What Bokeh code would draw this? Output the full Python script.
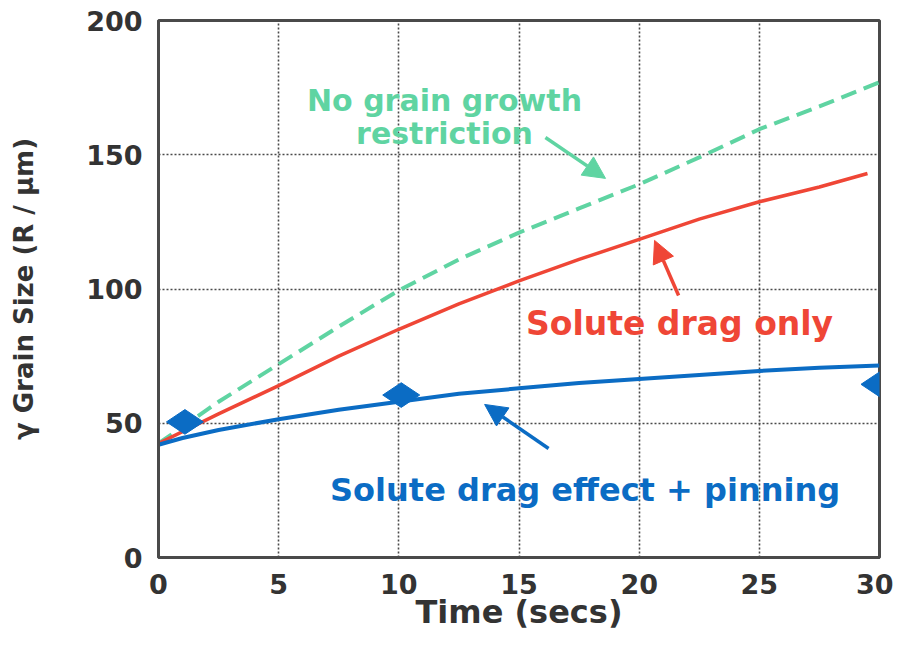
import numpy as np
from bokeh.plotting import figure
from bokeh.models import Range1d, Arrow, NormalHead, FixedTicker, Label
from bokeh.embed import file_html
from bokeh.resources import INLINE

# ---- data ----
t_green = [0, 2.5, 5, 7.5, 10, 12.5, 15, 17.5, 20, 22.5, 25, 27.5, 30]
no_restriction = [42.5, 58, 72, 86, 99.5, 111, 121, 130, 139, 149, 159.5, 168, 177]

t_red = [0, 2.5, 5, 7.5, 10, 12.5, 15, 17.5, 20, 22.5, 25, 27.5, 29.5]
solute_drag = [42.5, 53.5, 64, 75, 85, 94.5, 103, 111, 118.5, 126, 132.5, 138, 143]

t_blue = [0, 1, 2.5, 5, 7.5, 10, 12.5, 15, 17.5, 20, 22.5, 25, 27.5, 30]
drag_pinning = [42, 44.5, 47.5, 51.5, 55, 58, 61, 63, 65, 66.5, 68, 69.5, 70.7, 71.5]

t_meas = [1.1, 10.1, 30]
measured = [50.5, 60.5, 64.5]

x_ticks = [0, 5, 10, 15, 20, 25, 30]
y_ticks = [0, 50, 100, 150, 200]

GREEN = "#5fd4a2"
RED = "#ef4636"
BLUE = "#0b6cc4"
DARK = "#4a4a4a"
FONT = "DejaVu Sans"

p = figure(width=893, height=634, output_backend="svg", toolbar_location=None,
           x_range=Range1d(0, 30), y_range=Range1d(0, 200),
           min_border_left=158, min_border_right=14, min_border_top=20, min_border_bottom=77)
p.background_fill_color = "white"
p.border_fill_color = "white"
p.outline_line_color = DARK
p.outline_line_width = 3

for ax in (p.xaxis, p.yaxis):
    ax.axis_line_color = DARK
    ax.axis_line_width = 3
    ax.major_tick_line_color = None
    ax.minor_tick_line_color = None
    ax.major_label_text_font = FONT
    ax.major_label_text_font_style = "bold"
    ax.major_label_text_font_size = "27px"
    ax.major_label_text_color = "#333333"
    ax.axis_label_text_font = FONT
    ax.axis_label_text_font_style = "bold"
    ax.axis_label_text_color = "#333333"

p.xaxis.ticker = FixedTicker(ticks=x_ticks)
p.yaxis.ticker = FixedTicker(ticks=y_ticks)
p.xaxis.major_label_standoff = 10
p.yaxis.major_label_standoff = 10
p.xaxis.axis_label = "Time (secs)"
p.xaxis.axis_label_text_font_size = "32px"
p.xaxis.axis_label_standoff = -4
p.yaxis.axis_label = "γ Grain Size (R / μm)"
p.yaxis.axis_label_text_font_size = "26px"
p.yaxis.axis_label_standoff = 44

for g in (p.xgrid, p.ygrid):
    g.grid_line_color = DARK
    g.grid_line_width = 1.6
    g.grid_line_dash = "2 2"

# curves
p.line(t_green, no_restriction, line_color=GREEN, line_width=4, line_dash="16 8")
p.line(t_red, solute_drag, line_color=RED, line_width=3.5)
p.line(t_blue, drag_pinning, line_color=BLUE, line_width=4)
p.scatter(t_meas, measured, marker="diamond", size=37, angle=np.pi / 2,
          fill_color=BLUE, line_color=BLUE)

# annotations
def arrow(x0, y0, x1, y1, col):
    p.add_layout(Arrow(end=NormalHead(size=22, fill_color=col, line_color=col),
                       x_start=x0, y_start=y0, x_end=x1, y_end=y1,
                       line_color=col, line_width=3.5))

arrow(16.1, 156.4, 18.6, 141.2, GREEN)
arrow(21.64, 97.6, 20.64, 118.1, RED)
arrow(16.23, 40.6, 13.57, 57.0, BLUE)

def label(x, y, txt, col, size):
    p.add_layout(Label(x=x, y=y, text=txt, text_color=col, text_font=FONT,
                       text_font_style="bold", text_font_size=size,
                       text_align="center", text_baseline="alphabetic"))

label(11.9, 170.2, "No grain growth", GREEN, "30px")
label(11.9, 157.9, "restriction", GREEN, "30px")
label(21.68, 87.2, "Solute drag only", RED, "33px")
label(17.75, 25.3, "Solute drag effect + pinning", BLUE, "32px")

open("out.html", "w").write(file_html(p, INLINE))
